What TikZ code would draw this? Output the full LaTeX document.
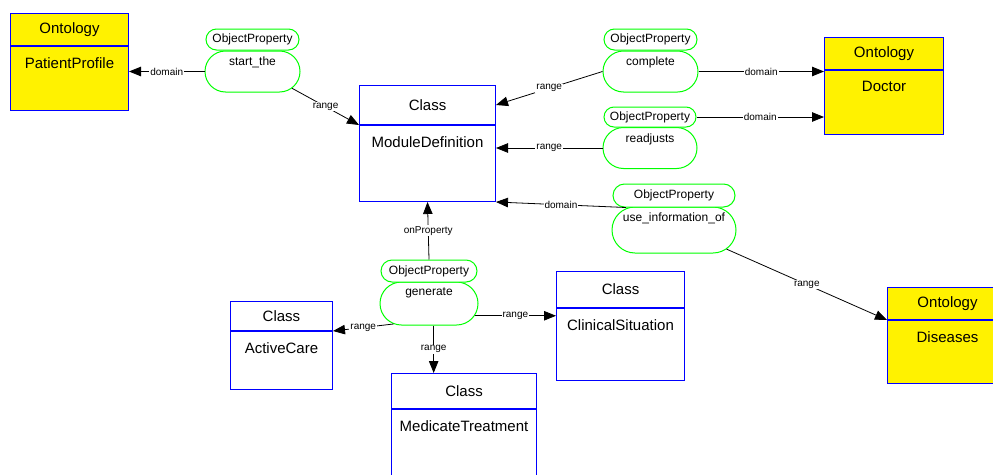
\documentclass[tikz,border=0pt]{standalone}
\usepackage{fontspec}
\setmainfont{Liberation Sans}
\usetikzlibrary{shapes.misc,arrows.meta}
\tikzset{
    boxhead/.style={draw=blue, line width=1pt, anchor=north west, inner sep=0pt, font=\fontsize{15}{18}\selectfont},
    boxbody/.style={draw=blue, line width=1pt, anchor=north west, inner sep=0pt},
    onto/.style={fill=yellow},
    cls/.style={fill=white},
    boxtext/.style={anchor=north, inner sep=0pt, yshift=-11pt, font=\fontsize{15}{18}\selectfont},
    prophead/.style={rounded rectangle, draw=green, line width=1pt, fill=white, inner sep=1pt, font=\fontsize{12}{14}\selectfont},
    propbody/.style={rounded rectangle, draw=green, line width=1pt, fill=white, inner sep=0pt},
    proptext/.style={anchor=north, inner sep=0pt, yshift=-6.5pt, font=\fontsize{12}{14}\selectfont},
    rel/.style={-{Triangle[length=12pt,width=9.5pt]}, line width=0.8pt},
    rellabel/.style={fill=white, inner sep=1pt, font=\fontsize{10}{12}\selectfont},
}

\begin{document}
\begin{tikzpicture}[x=1pt, y=-1pt]
        \useasboundingbox (0,0) rectangle (993,474);
        \clip (0,0) rectangle (993,474);
        %draw ontologies
        \node[boxhead, onto, minimum width=118pt, minimum height=32pt] (pph) at (10,13) {Ontology};
        \node[boxbody, onto, minimum width=118pt, minimum height=64pt] (ppb) at (pph.south west) {};
        \node[boxtext] (ppt) at (ppb.north) {PatientProfile};
        \node[boxhead, onto, minimum width=119pt, minimum height=32pt] (dch) at (824,37) {Ontology};
        \node[boxbody, onto, minimum width=119pt, minimum height=64pt] (dcb) at (dch.south west) {};
        \node[boxtext] (dct) at (dcb.north) {Doctor};
        \node[boxhead, onto, minimum width=120pt, minimum height=32pt] (dsh) at (887,287) {Ontology};
        \node[boxbody, onto, minimum width=120pt, minimum height=63pt] (dsb) at (dsh.south west) {};
        \node[boxtext] (dst) at (dsb.north) {Diseases};
        %draw classes
        \node[boxhead, cls, minimum width=136pt, minimum height=39pt] (mdh) at (359,85) {Class};
        \node[boxbody, cls, minimum width=136pt, minimum height=76pt] (mdb) at (mdh.south west) {};
        \node[boxtext] (mdt) at (mdb.north) {ModuleDefinition};
        \node[boxhead, cls, minimum width=102pt, minimum height=29pt] (ach) at (230,301) {Class};
        \node[boxbody, cls, minimum width=102pt, minimum height=58pt] (acb) at (ach.south west) {};
        \node[boxtext] (act) at (acb.north) {ActiveCare};
        \node[boxhead, cls, minimum width=128pt, minimum height=36pt] (csh) at (556,271) {Class};
        \node[boxbody, cls, minimum width=128pt, minimum height=72pt] (csb) at (csh.south west) {};
        \node[boxtext] (cst) at (csb.north) {ClinicalSituation};
        \node[boxhead, cls, minimum width=145pt, minimum height=35pt] (mth) at (391,373) {Class};
        \node[boxbody, cls, minimum width=145pt, minimum height=80pt] (mtb) at (mth.south west) {};
        \node[boxtext] (mtt) at (mtb.north) {MedicateTreatment};
        %draw object properties
        \node[propbody, minimum width=95pt, minimum height=41pt] (stb) at (252.5,71.5) {};
        \node[prophead, minimum width=95pt, minimum height=21pt] (sth) at (252.5,39.5) {ObjectProperty};
        \node[proptext] (stt) at (stb.north) {start\_the};
        \node[propbody, minimum width=95pt, minimum height=41pt] (cpb) at (650.5,71.5) {};
        \node[prophead, minimum width=95pt, minimum height=21pt] (cph) at (650.5,39.5) {ObjectProperty};
        \node[proptext] (cpt) at (cpb.north) {complete};
        \node[propbody, minimum width=94pt, minimum height=41pt] (rjb) at (650,148) {};
        \node[prophead, minimum width=94pt, minimum height=20pt] (rjh) at (650,117) {ObjectProperty};
        \node[proptext] (rjt) at (rjb.north) {readjusts};
        \node[propbody, minimum width=124pt, minimum height=46pt] (uib) at (674,230) {};
        \node[prophead, minimum width=124pt, minimum height=23pt] (uih) at (674,195.5) {ObjectProperty};
        \node[proptext] (uit) at (uib.north) {use\_information\_of};
        \node[propbody, minimum width=98pt, minimum height=43pt] (gnb) at (429,303.5) {};
        \node[prophead, minimum width=98pt, minimum height=22pt] (gnh) at (429,271) {ObjectProperty};
        \node[proptext] (gnt) at (gnb.north) {generate};
        %draw relations
        \draw[rel] (stb.west) -- node[rellabel] (l1) {domain} (ppb.east |- stb.west);
        \draw[rel] (stb.-23) -- node[rellabel] (l2) {range} (mdh.south west);
        \draw[rel] (cpb.west) -- node[rellabel] (l3) {range} (mdh.east);
        \draw[rel] (cpb.east) -- node[rellabel] (l4) {domain} (dcb.west |- cpb.east);
        \draw[rel] (rjb.west) -- node[rellabel] (l5) {range} (mdb.east |- rjb.west);
        \draw[rel] (rjh.east) -- node[rellabel] (l6) {domain} (dcb.west |- rjh.east);
        \draw[rel] (uih.194) -- node[rellabel] (l7) {domain} (mdb.south east);
        \draw[rel] (uib.-20) -- node[rellabel] (l8) {range} (dsh.south west);
        \draw[rel] (gnh.north) -- node[rellabel] (l9) {onProperty} (mdb.south);
        \draw[rel] (gnb.210) -- node[rellabel] (l10) {range} (acb.north east);
        \draw[rel] (gnb.-78) -- node[rellabel] (l11) {range} (gnb.-78 |- mth.north);
        \draw[rel] (gnb.-15) -- node[rellabel] (l12) {range} (csb.west |- gnb.-15);
    \end{tikzpicture}
\end{document}
